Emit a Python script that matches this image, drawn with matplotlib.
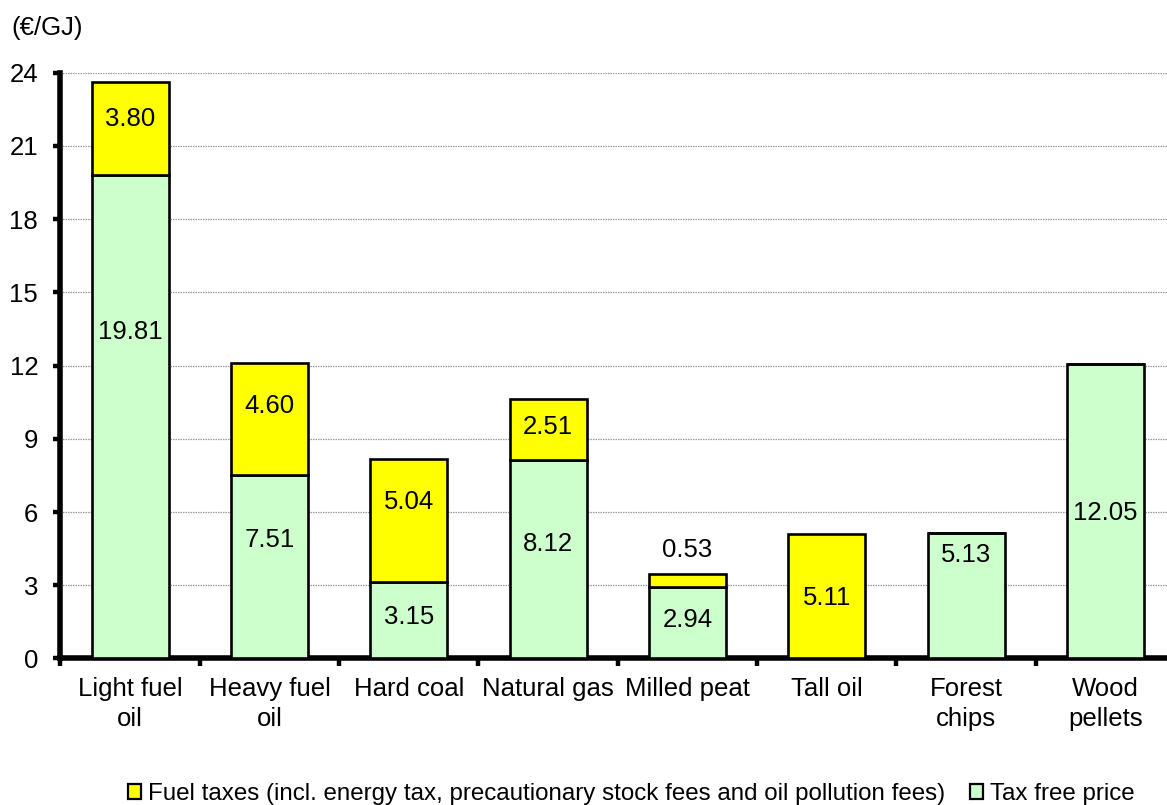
import numpy as np
import matplotlib
matplotlib.use('Agg')
import matplotlib.pyplot as plt
from matplotlib.patches import Patch

categories = ['Light fuel\noil', 'Heavy fuel\noil', 'Hard coal', 'Natural gas',
              'Milled peat', 'Tall oil', 'Forest\nchips', 'Wood\npellets']
tax_free = [19.81, 7.51, 3.15, 8.12, 2.94, 0.0, 5.13, 12.05]
taxes = [3.80, 4.60, 5.04, 2.51, 0.53, 5.11, 0.0, 0.0]

# where each value label sits (y, in €/GJ)
tax_free_label_y = [13.36, 4.85, 1.70, 4.71, 1.56, None, 4.23, 5.97]
taxes_label_y = [22.10, 10.33, 6.42, 9.50, 4.44, 2.47, None, None]

GREEN = '#CCFFCC'
YELLOW = '#FFFF00'
FONT = 18.5
LEGEND_FONT = 17.4

plt.rcParams['font.family'] = ['Liberation Sans', 'DejaVu Sans']
plt.rcParams['font.size'] = FONT

fig = plt.figure(figsize=(11.67, 8.05), dpi=100)
ax = fig.add_axes([0.0518, 0.182, 1.0069 - 0.0518, 0.9097 - 0.182])

x = np.arange(len(categories))
width = 0.553

ax.bar(x, tax_free, width, color=GREEN, edgecolor='black', linewidth=1.9, zorder=3)
ax.bar(x, taxes, width, bottom=tax_free, color=YELLOW, edgecolor='black',
       linewidth=1.9, zorder=3)

for i in range(len(categories)):
    if tax_free[i] > 0:
        ax.text(x[i], tax_free_label_y[i], f'{tax_free[i]:.2f}', ha='center',
                va='center', fontsize=FONT, zorder=4)
    if taxes[i] > 0:
        ax.text(x[i], taxes_label_y[i], f'{taxes[i]:.2f}', ha='center',
                va='center', fontsize=FONT, zorder=4)

ax.set_xlim(-0.5, len(categories) - 0.5)
ax.set_ylim(0, 24)
ax.set_yticks(np.arange(0, 25, 3))
ax.yaxis.grid(True, color='#9a9a9a', linestyle=(0, (1.2, 0.8)), linewidth=0.9, zorder=0)
ax.set_axisbelow(True)

ax.set_xticks(x)
ax.set_xticklabels(categories, linespacing=1.35)
ax.set_xticks(np.arange(-0.5, len(categories)), minor=True)
ax.tick_params(axis='x', which='major', length=0, pad=13, labelsize=FONT)
ax.tick_params(axis='x', which='minor', length=6, width=3.2, direction='out')
ax.tick_params(axis='y', length=5, width=3.2, direction='out', pad=11, labelsize=FONT)

for side in ['top', 'right']:
    ax.spines[side].set_visible(False)
for side in ['left', 'bottom']:
    ax.spines[side].set_linewidth(4)

fig.text(0.010, 0.965, '(€/GJ)', fontsize=FONT, ha='left', va='center')

handles = [
    Patch(facecolor=YELLOW, edgecolor='black', linewidth=1.6,
          label='Fuel taxes (incl. energy tax, precautionary stock fees and oil pollution fees)'),
    Patch(facecolor=GREEN, edgecolor='black', linewidth=1.6, label='Tax free price'),
]
fig.legend(handles=handles, loc='center', bbox_to_anchor=(0.541, 1 - 794 / 805),
           ncol=2, frameon=False, fontsize=LEGEND_FONT, handlelength=0.55, handleheight=0.55,
           handletextpad=0.3, columnspacing=1.0, borderaxespad=0)

fig.savefig('out.png', dpi=100)
